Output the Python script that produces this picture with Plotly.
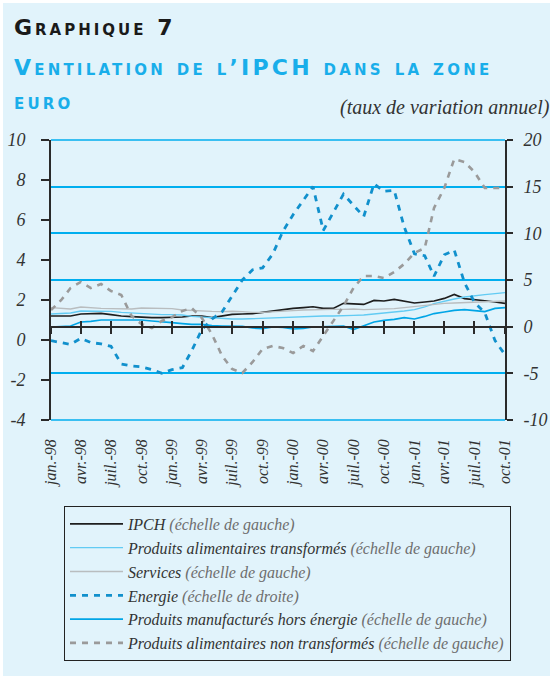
import plotly.graph_objects as go
import pandas as pd

# ---------------- data ----------------
months = pd.date_range("1998-01-01", "2001-10-01", freq="MS")
tick_dates = list(months[::3])
tick_labels = ["jan.-98", "avr.-98", "juil.-98", "oct.-98",
               "jan.-99", "avr.-99", "juil.-99", "oct.-99",
               "jan.-00", "avr.-00", "juil.-00", "oct.-00",
               "jan.-01", "avr.-01", "juil.-01", "oct.-01"]
left_ticks = [-4, -2, 0, 2, 4, 6, 8, 10]
left_tick_text = ["-4", "-2", "0", "2", "4", "6", "8", "10"]
right_ticks = [-10, -5, 0, 5, 10, 15, 20]
right_tick_text = ["-10", "-5", "0", "5", "10", "15", "20"]

ipch = [1.20, 1.20, 1.20, 1.30, 1.33, 1.33, 1.27, 1.20, 1.17, 1.13,
        1.12, 1.12, 1.12, 1.15, 1.20, 1.20, 1.12, 1.20, 1.28, 1.30,
        1.32, 1.38, 1.45, 1.52, 1.58, 1.62, 1.66, 1.58, 1.58, 1.83,
        1.80, 1.78, 1.98, 1.95, 2.03, 1.95, 1.85, 1.90, 1.95, 2.08,
        2.28, 2.07, 2.00, 1.96, 1.90, 1.83]
proc_food = [1.30, 1.32, 1.35, 1.45, 1.45, 1.45, 1.43, 1.38, 1.35, 1.32,
             1.28, 1.27, 1.27, 1.25, 1.18, 1.15, 1.12, 1.06, 1.05, 1.05,
             1.07, 1.10, 1.13, 1.15, 1.17, 1.18, 1.20, 1.20, 1.20, 1.20,
             1.23, 1.25, 1.30, 1.33, 1.37, 1.45, 1.52, 1.65, 1.82, 1.95,
             2.05, 2.15, 2.22, 2.27, 2.32, 2.37]
services = [1.62, 1.60, 1.55, 1.65, 1.60, 1.58, 1.57, 1.57, 1.55, 1.60,
            1.60, 1.58, 1.57, 1.50, 1.47, 1.45, 1.43, 1.42, 1.44, 1.42,
            1.38, 1.38, 1.42, 1.45, 1.47, 1.50, 1.52, 1.53, 1.53, 1.53,
            1.55, 1.52, 1.53, 1.55, 1.57, 1.62, 1.67, 1.75, 1.80, 1.83,
            1.85, 1.87, 1.87, 1.88, 1.90, 1.95]
energy = [-1.5, -1.75, -1.9, -1.25, -1.7, -1.85, -2.1, -4.0, -4.2, -4.3,
          -4.6, -5.0, -4.6, -4.4, -2.6, -0.3, 0.8, 1.6, 3.3, 5.0,
          6.1, 6.3, 7.8, 10.2, 12.0, 13.5, 15.0, 10.3, 12.3, 14.2,
          13.0, 11.8, 15.3, 14.5, 14.6, 10.7, 7.8, 7.6, 5.4, 7.7,
          8.2, 4.7, 2.6, 1.5, -1.5, -3.0]
manuf = [0.65, 0.68, 0.70, 0.90, 0.93, 1.00, 1.00, 1.00, 1.00, 1.00,
         0.95, 0.92, 0.87, 0.82, 0.78, 0.78, 0.72, 0.70, 0.70, 0.68,
         0.60, 0.57, 0.65, 0.63, 0.55, 0.58, 0.65, 0.67, 0.70, 0.70,
         0.52, 0.72, 0.90, 0.98, 1.03, 1.12, 1.05, 1.18, 1.32, 1.40,
         1.48, 1.52, 1.47, 1.42, 1.58, 1.62]
unproc_food = [1.5, 2.0, 2.6, 2.9, 2.6, 2.8, 2.45, 2.25, 1.2, 0.8,
               0.6, 0.95, 1.15, 1.45, 1.6, 1.1, 0.3, -0.8, -1.45, -1.65,
               -1.1, -0.45, -0.3, -0.4, -0.65, -0.3, -0.55, 0.2, 0.9, 1.7,
               2.6, 3.2, 3.2, 3.1, 3.4, 3.8, 4.35, 4.6, 6.6, 7.6,
               9.05, 8.9, 8.4, 7.6, 7.6, 7.6]

left_range = [-4, 10]
right_range = [-10, 20]

# ---------------- style ----------------
W, H = 553, 679
ML, MR, MT, MB = 51, 48, 140, 259
PW, PH = W - ML - MR, H - MT - MB
BG = "#E1F3FB"
GRID = "#00AEEF"
SERIF = "Liberation Serif, Times New Roman, serif"
SANS = "DejaVu Sans, Verdana, sans-serif"
TXT = "#333333"
PAR = "#6E6E6E"


def px(x):
    return (x - ML) / PW


def py(y):
    return (H - MB - y) / PH


def lab(main, scale):
    return f"{main} <span style='color:{PAR}'>(échelle de {scale})</span>"


def spaced(text, sp):
    return f"<span style='letter-spacing:{sp}px'>{text}</span>"


fig = go.Figure()
fig.add_trace(go.Scatter(x=months, y=ipch, name=lab("IPCH", "gauche"),
                         mode="lines", line=dict(color="#1E1E1E", width=1.6)))
fig.add_trace(go.Scatter(x=months, y=proc_food,
                         name=lab("Produits alimentaires transformés", "gauche"),
                         mode="lines", line=dict(color="#62CBF3", width=1.3)))
fig.add_trace(go.Scatter(x=months, y=services, name=lab("Services", "gauche"),
                         mode="lines", line=dict(color="#B9BDBF", width=1.4)))
fig.add_trace(go.Scatter(x=months, y=energy, name=lab("Energie", "droite"),
                         xaxis="x2", yaxis="y2", mode="lines",
                         line=dict(color="#1190CC", width=2.8, dash="6px,6px")))
fig.add_trace(go.Scatter(x=months, y=manuf,
                         name=lab("Produits manufacturés hors énergie", "gauche"),
                         mode="lines", line=dict(color="#00A5E6", width=1.6)))
fig.add_trace(go.Scatter(x=months, y=unproc_food,
                         name=lab("Produits alimentaires non transformés", "gauche"),
                         xaxis="x3", mode="lines",
                         line=dict(color="#9A9A9A", width=2.6, dash="6px,6px")))

xr = [months[0], months[-1]]
zero_pos = (0 - right_range[0]) / (right_range[1] - right_range[0])
tickfont = dict(family=SERIF, size=18, color=TXT, style="italic")

fig.update_layout(
    width=W, height=H,
    margin=dict(l=ML, r=MR, t=MT, b=MB, autoexpand=False),
    paper_bgcolor="white", plot_bgcolor="rgba(0,0,0,0)",
    showlegend=True,
    legend=dict(x=px(64), y=py(506), xanchor="left", yanchor="top",
                bgcolor="rgba(0,0,0,0)", bordercolor="#222222", borderwidth=1,
                font=dict(family=SERIF, size=16, color=TXT, style="italic"),
                tracegroupgap=0, itemwidth=53),
    xaxis=dict(range=xr, showgrid=False, zeroline=False, showline=False,
               tickvals=tick_dates, ticktext=tick_labels, tickangle=-90,
               ticks="", ticklabelstandoff=15,
               tickfont=dict(family=SERIF, size=16, color=TXT, style="italic")),
    xaxis2=dict(range=xr, overlaying="x", anchor="free", position=zero_pos,
                showgrid=False, zeroline=False, showline=True, linecolor="#2A2A2A",
                linewidth=2, tickvals=tick_dates, ticks="outside", ticklen=6,
                tickwidth=1.5, tickcolor="#2A2A2A", showticklabels=False),
    xaxis3=dict(range=xr, overlaying="x", anchor="free", position=zero_pos,
                showgrid=False, zeroline=False, showline=False,
                tickvals=tick_dates, ticks="inside", ticklen=6,
                tickwidth=1.5, tickcolor="#2A2A2A", showticklabels=False),
    yaxis=dict(range=left_range, tickvals=left_ticks, ticktext=left_tick_text,
               showgrid=False, zeroline=False,
               showline=True, linecolor="#2A2A2A", linewidth=2,
               ticks="outside", ticklen=8, tickwidth=1.5, tickcolor="#2A2A2A",
               tickfont=tickfont, ticklabelstandoff=12),
    yaxis2=dict(range=right_range, tickvals=right_ticks, ticktext=right_tick_text,
                overlaying="y", side="right",
                showgrid=True, gridcolor=GRID, gridwidth=1.6, zeroline=False,
                showline=True, linecolor="#2A2A2A", linewidth=2,
                ticks="outside", ticklen=6, tickwidth=1.5, tickcolor="#2A2A2A",
                tickfont=tickfont, ticklabelstandoff=7),
)

# light-blue panel with thin white border
fig.add_shape(type="rect", xref="paper", yref="paper",
              x0=px(3), x1=px(W - 3), y0=py(H - 3), y1=py(3),
              fillcolor=BG, line=dict(width=0), layer="below")
# gridlines at the two ends of the right scale (plotly drops them at the edges)
for v in right_range:
    frac = (v - right_range[0]) / (right_range[1] - right_range[0])
    fig.add_shape(type="line", xref="paper", yref="paper", x0=0, x1=1,
                  y0=frac, y1=frac, line=dict(color=GRID, width=1.6),
                  layer="below")

fig.add_annotation(xref="paper", yref="paper", x=px(12), y=py(27),
                   xanchor="left", yanchor="middle", showarrow=False,
                   text=spaced("Graphique 7", 3),
                   font=dict(family=SANS, size=22, color="#1A1A1A",
                             weight="bold", variant="small-caps"))
fig.add_annotation(xref="paper", yref="paper", x=px(12), y=py(67),
                   xanchor="left", yanchor="middle", showarrow=False,
                   text=spaced("Ventilation de l’IPCH dans la zone", 3.2),
                   font=dict(family=SANS, size=22, color="#19AEEA",
                             weight="bold", variant="small-caps"))
fig.add_annotation(xref="paper", yref="paper", x=px(12), y=py(101),
                   xanchor="left", yanchor="middle", showarrow=False,
                   text=spaced("euro", 3.2),
                   font=dict(family=SANS, size=22, color="#19AEEA",
                             weight="bold", variant="small-caps"))
fig.add_annotation(xref="paper", yref="paper", x=px(552), y=py(108),
                   xanchor="right", yanchor="middle", showarrow=False,
                   text="(taux de variation annuel)",
                   font=dict(family=SERIF, size=20, color=TXT, style="italic"))

fig.write_html("out.html",
               config={"displayModeBar": False},
               post_script="document.body.style.margin='0';"
                           "document.body.style.padding='0';")
